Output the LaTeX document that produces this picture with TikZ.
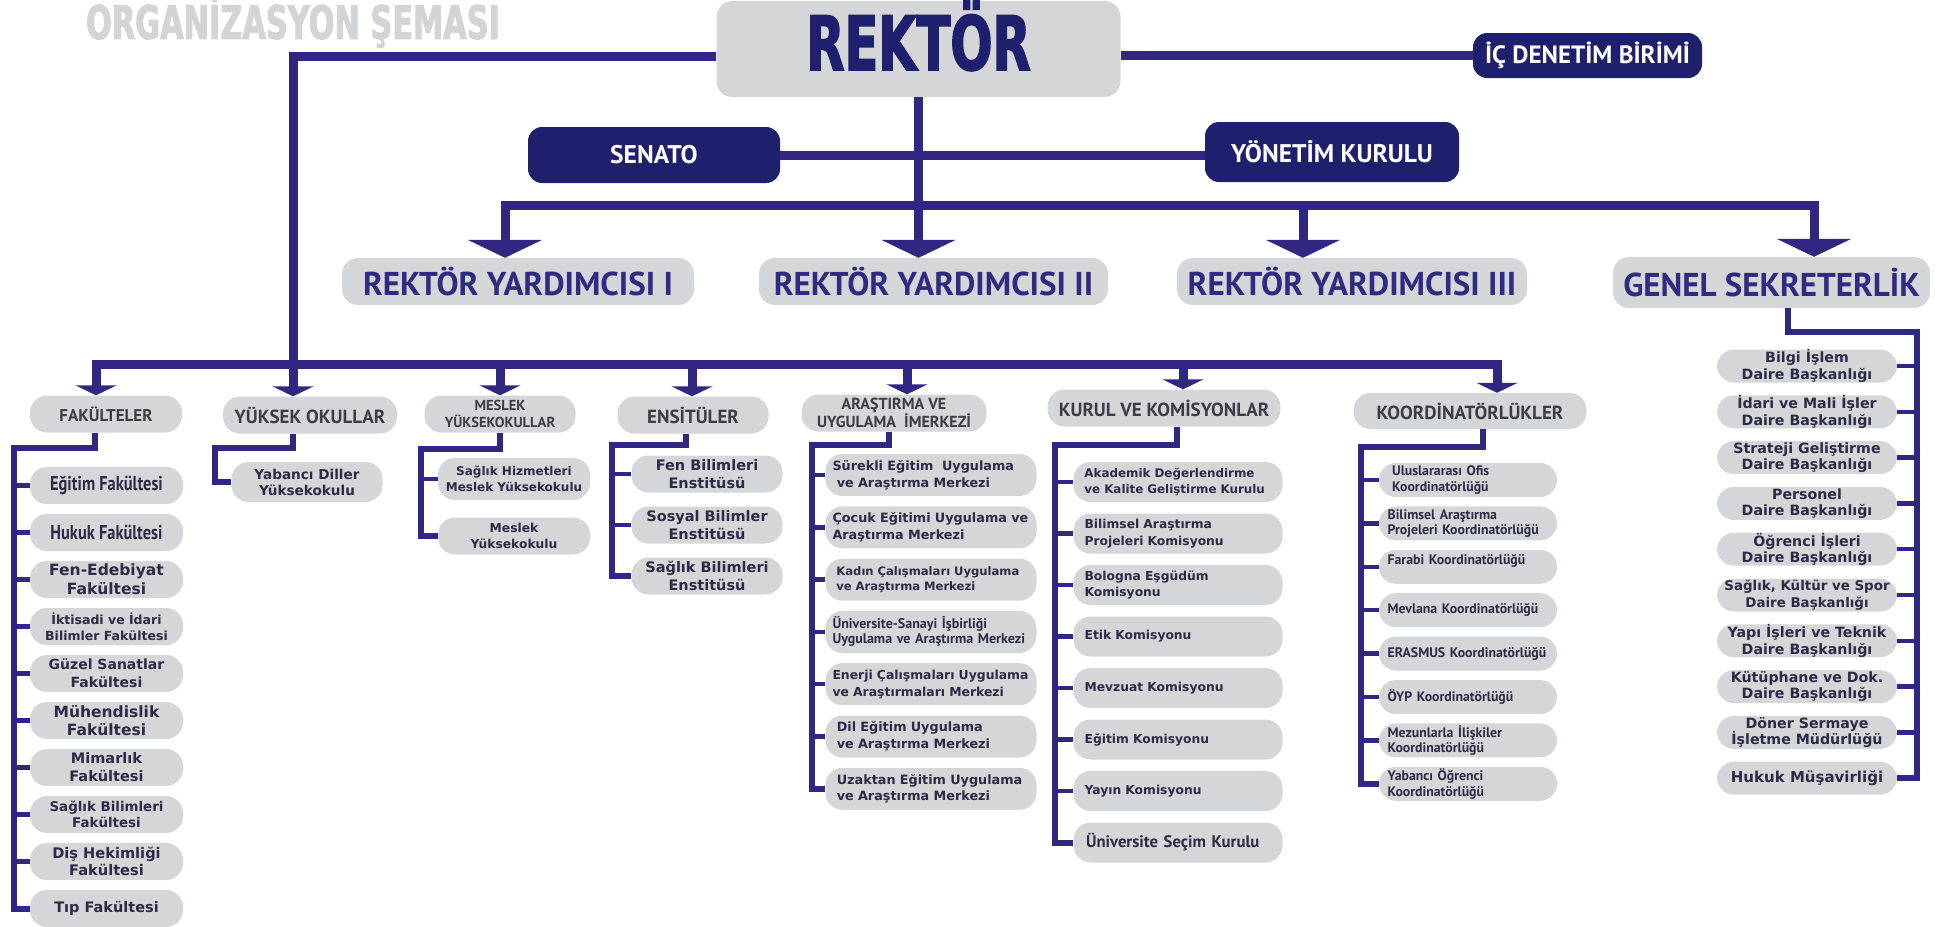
\documentclass[tikz,border=0pt]{standalone}
\usepackage{fontspec}
\setmainfont{DejaVu Sans}
\newfontfamily\myriad{PT Sans}
\newfontfamily\myriadcond[FakeStretch=0.82]{PT Sans}
\newfontfamily\impact[FakeStretch=0.66,FakeBold=2]{DejaVu Sans}
\usepackage{tikz}
\usetikzlibrary{arrows.meta}
\usetikzlibrary{positioning}

\definecolor{navy}{HTML}{302783}
\definecolor{darknavy}{HTML}{1E1F6D}
\definecolor{boxgray}{HTML}{D5D6D8}
\definecolor{titlegray}{HTML}{D3D4D6}
\definecolor{itemtext}{HTML}{2B2B47}
\definecolor{cattext}{HTML}{3D3D45}
\definecolor{rytext}{HTML}{2F2A82}

\tikzset{
    line/.style={draw=navy, line width=9pt},
    bigarrow/.style={line, -{Triangle[width=74pt,length=18pt]}},
    smallarrow/.style={line, -{Triangle[width=41pt,length=10pt]}},
    rail/.style={draw=navy, line width=6pt},
    stub/.style={draw=navy, line width=4.5pt},
    head/.style={
           rectangle,
           rounded corners=16pt,
           fill=boxgray,
           text=rytext,
           inner sep=0pt,
           minimum height=47pt,
           font=\myriad\bfseries\fontsize{33}{34}\selectfont,
           },
    navybox/.style={
           rectangle,
           rounded corners=14pt,
           fill=darknavy,
           text=white,
           inner sep=0pt,
           font=\myriad\bfseries\fontsize{25.5}{27}\selectfont,
           },
    cat/.style={
           rectangle,
           rounded corners=17pt,
           fill=boxgray,
           text=cattext,
           align=center,
           inner sep=0pt,
           minimum height=37pt,
           font=\myriad\bfseries\fontsize{19}{20}\selectfont,
           },
    item/.style={
           rectangle,
           rounded corners=17pt,
           fill=boxgray,
           text=itemtext,
           align=center,
           inner sep=0pt,
           font=\bfseries\fontsize{13}{16}\selectfont,
           },
    fs/.style 2 args={font=\bfseries\fontsize{#1}{#2}\selectfont},
    pt/.style 2 args={font=\myriad\bfseries\fontsize{#1}{#2}\selectfont},
    ptc/.style 2 args={font=\myriadcond\bfseries\fontsize{#1}{#2}\selectfont},
    fakitem/.style={item, minimum width=153pt, minimum height=37pt},
    ensitem/.style={item, minimum width=151pt, minimum height=37pt, fs={14.5}{18}},
    arsitem/.style={item, align=left, text width=197pt, inner xsep=7pt, minimum height=42pt, fs={12.8}{16.7}},
    kitem/.style={item, align=left, text width=195pt, inner xsep=7pt, minimum height=40pt, fs={12.3}{16.5}},
    citem/.style={item, align=left, text width=170pt, inner xsep=4pt, minimum height=34pt, pt={13.8}{15.5}},
    gsitem/.style={item, minimum width=180pt, minimum height=33pt, fs={14.2}{16.5}},
}

\begin{document}
\begin{tikzpicture}[x=1pt,y=-1pt]
    \useasboundingbox (0,0) rectangle (1937,926);

    % rector level
    \node[font=\impact\bfseries\fontsize{46}{46}\selectfont, text=titlegray] (title) at (293,22) {ORGANİZASYON ŞEMASI};
    \node[head, minimum width=404pt, minimum height=96pt, text=darknavy, text height=55pt, text depth=13pt,
          font=\impact\bfseries\fontsize{75}{75}\selectfont] (rektor) at (918.5,49) {REKTÖR};
    \node[navybox, minimum width=229pt, minimum height=45pt, font=\myriad\bfseries\fontsize{25}{26}\selectfont]
          (icdenetim) at (1587.5,55.5) {İÇ DENETİM BİRİMİ};
    \node[navybox, minimum width=252pt, minimum height=56pt] (senato) at (654,155) {SENATO};
    \node[navybox, minimum width=254pt, minimum height=60pt] (yonetim) at (1332,152) {YÖNETİM KURULU};

    \node[head, minimum width=352pt] (ry1) at (518,281.5) {REKTÖR YARDIMCISI I};
    \node[head, minimum width=349pt] (ry2) at (933.5,281.5) {REKTÖR YARDIMCISI II};
    \node[head, minimum width=350pt] (ry3) at (1352,281.5) {REKTÖR YARDIMCISI III};
    \node[head, minimum width=317pt, minimum height=51pt] (gs) at (1771.5,282.5) {GENEL SEKRETERLİK};

    \coordinate (bus1L) at (505,205);
    \coordinate (bus1M) at (1303,205);
    \coordinate (bus1R) at (1814,205);
    \coordinate (topbend) at (293,56);

    \draw[line] (icdenetim.west -| rektor.east) -- (icdenetim.west);
    \draw[line] (senato.east) -- (senato.east -| yonetim.west);
    \draw[bigarrow] (bus1M) -- (bus1L) -- (bus1L |- ry1.north);
    \draw[bigarrow] (bus1M) -- (bus1R) -- (bus1R |- gs.north);
    \draw[bigarrow] (bus1M) -- (bus1M |- ry3.north);
    \draw[bigarrow] (rektor.south) -- (rektor.south |- ry2.north);

    % units
    \node[cat, minimum width=152pt, font=\myriad\bfseries\fontsize{17}{18}\selectfont] (fak) at (106,414) {FAKÜLTELER};
    \node[cat, minimum width=174pt] (yo) at (310,415) {YÜKSEK OKULLAR};
    \node[cat, minimum width=151pt, font=\myriad\bfseries\fontsize{14.5}{17}\selectfont] (myo) at (500,414) {MESLEK\\YÜKSEKOKULLAR};
    \node[cat, minimum width=151pt] (ens) at (693,415) {ENSİTÜLER};
    \node[cat, minimum width=185pt, font=\myriad\bfseries\fontsize{16}{17}\selectfont] (ars) at (894,413) {ARAŞTIRMA VE\\UYGULAMA~~İMERKEZİ};
    \node[cat, minimum width=233pt] (kurul) at (1164,408) {KURUL VE KOMİSYONLAR};
    \node[cat, minimum width=233pt, minimum height=36pt] (koord) at (1470,411) {KOORDİNATÖRLÜKLER};

    \coordinate (bus2L) at (96,364);
    \coordinate (bus2R) at (1497,364);
    \coordinate (myodrop) at (500,364);
    \coordinate (ensdrop) at (692,364);
    \coordinate (arsdrop) at (907,364);
    \coordinate (kuruldrop) at (1183,364);

    \draw[smallarrow] (rektor.west |- topbend) -- (topbend) -- (topbend |- yo.north);
    \draw[smallarrow] (bus2R) -- (bus2L) -- (bus2L |- fak.north);
    \draw[smallarrow] (bus2L) -- (bus2R) -- (bus2R |- koord.north);
    \draw[smallarrow] (myodrop) -- (myodrop |- myo.north);
    \draw[smallarrow] (ensdrop) -- (ensdrop |- ens.north);
    \draw[smallarrow] (arsdrop) -- (arsdrop |- ars.north);
    \draw[smallarrow] (kuruldrop) -- (kuruldrop |- kurul.north);

    % faculties
    \begin{scope}[node distance=47pt]
    \node[fakitem, ptc={20}{22}] (f1) at (106.5,485.5) {Eğitim Fakültesi};
    \node[fakitem, ptc={20}{22}] (f2) [below of=f1] {Hukuk Fakültesi};
    \node[fakitem, fs={15.5}{19}] (f3) [below of=f2] {Fen-Edebiyat\\Fakültesi};
    \node[fakitem, fs={12.5}{16}] (f4) [below of=f3] {İktisadi ve İdari\\Bilimler Fakültesi};
    \node[fakitem, fs={14}{18}] (f5) [below of=f4] {Güzel Sanatlar\\Fakültesi};
    \node[fakitem, fs={15.5}{18}] (f6) [below of=f5] {Mühendislik\\Fakültesi};
    \node[fakitem, fs={14.5}{18}] (f7) [below of=f6] {Mimarlık\\Fakültesi};
    \node[fakitem, fs={13.4}{16.5}] (f8) [below of=f7] {Sağlık Bilimleri\\Fakültesi};
    \node[fakitem, fs={14.6}{17}] (f9) [below of=f8] {Diş Hekimliği\\Fakültesi};
    \node[fakitem, fs={14.5}{17}] (f10) [below of=f9] {Tıp Fakültesi};
    \end{scope}
    \coordinate (fakrail) at (14,448);
    \draw[rail] ([xshift=-11pt]fak.south) |- (fakrail) |- (f10.west);
    \draw[stub] (fakrail |- f1.west) -- (f1.west) (fakrail |- f2.west) -- (f2.west)
                (fakrail |- f3.west) -- (f3.west) (fakrail |- f4.west) -- (f4.west)
                (fakrail |- f5.west) -- (f5.west) (fakrail |- f6.west) -- (f6.west)
                (fakrail |- f7.west) -- (f7.west) (fakrail |- f8.west) -- (f8.west)
                (fakrail |- f9.west) -- (f9.west);

    % schools
    \node[item, minimum width=151pt, minimum height=40pt, fs={13.6}{16}] (yd) at (307,482) {Yabancı Diller\\Yüksekokulu};
    \coordinate (yorail) at (215,448);
    \draw[rail] ([xshift=-17pt]yo.south) |- (yorail) |- (yd.west);

    \node[item, minimum width=152pt, minimum height=42pt, fs={12}{16}] (m1) at (514,479) {Sağlık Hizmetleri\\Meslek Yüksekokulu};
    \node[item, minimum width=152pt, minimum height=37pt, fs={12.3}{16}, node distance=57pt] (m2) [below of=m1] {Meslek\\Yüksekokulu};
    \coordinate (myorail) at (421,449);
    \draw[rail] (myo.south) |- (myorail) |- (m2.west);
    \draw[stub] (myorail |- m1.west) -- (m1.west);

    % institutes
    \begin{scope}[node distance=51pt]
    \node[ensitem] (e1) at (707,474) {Fen Bilimleri\\Enstitüsü};
    \node[ensitem] (e2) [below of=e1] {Sosyal Bilimler\\Enstitüsü};
    \node[ensitem] (e3) [below of=e2] {Sağlık Bilimleri\\Enstitüsü};
    \end{scope}
    \coordinate (ensrail) at (612,445);
    \draw[rail] ([xshift=-7pt]ens.south) |- (ensrail) |- (e3.west);
    \draw[stub] (ensrail |- e1.west) -- (e1.west) (ensrail |- e2.west) -- (e2.west);

    % research centres
    \begin{scope}[node distance=52.3pt]
    \node[arsitem] (a1) at (931,475) {Sürekli Eğitim~~Uygulama\\~ve Araştırma Merkezi};
    \node[arsitem] (a2) [below of=a1] {Çocuk Eğitimi Uygulama ve\\Araştırma Merkezi};
    \node[arsitem, fs={11.6}{15}] (a3) [below of=a2] {~Kadın Çalışmaları Uygulama\\~ve Araştırma Merkezi};
    \node[arsitem, pt={14}{15}] (a4) [below of=a3] {Üniversite-Sanayi İşbirliği\\Uygulama ve Araştırma Merkezi};
    \node[arsitem, fs={12.4}{16.7}] (a5) [below of=a4] {Enerji Çalışmaları Uygulama\\ve Araştırmaları Merkezi};
    \node[arsitem] (a6) [below of=a5] {~Dil Eğitim Uygulama\\~ve Araştırma Merkezi};
    \node[arsitem] (a7) [below of=a6] {~Uzaktan Eğitim Uygulama\\~ve Araştırma Merkezi};
    \end{scope}
    \coordinate (arsrail) at (812,445);
    \draw[rail] ([xshift=-5pt]ars.south) |- (arsrail) |- (a7.west);
    \draw[stub] (arsrail |- a1.west) -- (a1.west) (arsrail |- a2.west) -- (a2.west)
                (arsrail |- a3.west) -- (a3.west) (arsrail |- a4.west) -- (a4.west)
                (arsrail |- a5.west) -- (a5.west) (arsrail |- a6.west) -- (a6.west);

    % boards and commissions
    \begin{scope}[node distance=51.5pt]
    \node[kitem, fs={11.9}{16.5}] (k1) at (1178,482) {~Akademik Değerlendirme\\~ve Kalite Geliştirme Kurulu};
    \node[kitem] (k2) [below of=k1] {~Bilimsel Araştırma\\~Projeleri Komisyonu};
    \node[kitem] (k3) [below of=k2] {~Bologna Eşgüdüm\\~Komisyonu};
    \node[kitem] (k4) [below of=k3] {~Etik Komisyonu};
    \node[kitem] (k5) [below of=k4] {~Mevzuat Komisyonu};
    \node[kitem] (k6) [below of=k5] {~Eğitim Komisyonu};
    \node[kitem] (k7) [below of=k6] {~Yayın Komisyonu};
    \node[kitem, pt={16.7}{18}] (k8) [below of=k7] {~Üniversite Seçim Kurulu};
    \end{scope}
    \coordinate (kurulrail) at (1055,445);
    \draw[rail] ([xshift=13pt]kurul.south) |- (kurulrail) |- (k8.west);
    \draw[stub] (kurulrail |- k1.west) -- (k1.west) (kurulrail |- k2.west) -- (k2.west)
                (kurulrail |- k3.west) -- (k3.west) (kurulrail |- k4.west) -- (k4.west)
                (kurulrail |- k5.west) -- (k5.west) (kurulrail |- k6.west) -- (k6.west)
                (kurulrail |- k7.west) -- (k7.west);

    % coordinatorships
    \begin{scope}[node distance=43.4pt]
    \node[citem] (c1) at (1468,480) {~~Uluslararası Ofis\\~~Koordinatörlüğü};
    \node[citem] (c2) [below of=c1] {~Bilimsel Araştırma\\~Projeleri Koordinatörlüğü};
    \node[citem] (c3) [below of=c2] {~Farabi Koordinatörlüğü\\~};
    \node[citem] (c4) [below of=c3] {~Mevlana Koordinatörlüğü};
    \node[citem] (c5) [below of=c4] {~ERASMUS Koordinatörlüğü};
    \node[citem] (c6) [below of=c5] {~ÖYP Koordinatörlüğü};
    \node[citem] (c7) [below of=c6] {~Mezunlarla İlişkiler\\~Koordinatörlüğü};
    \node[citem] (c8) [below of=c7] {~Yabancı Öğrenci\\~Koordinatörlüğü};
    \end{scope}
    \coordinate (koordrail) at (1361,447);
    \draw[rail] ([xshift=13pt]koord.south) |- (koordrail) |- (c8.west);
    \draw[stub] (koordrail |- c1.west) -- (c1.west) (koordrail |- c2.west) -- (c2.west)
                (koordrail |- c3.west) -- (c3.west) (koordrail |- c4.west) -- (c4.west)
                (koordrail |- c5.west) -- (c5.west) (koordrail |- c6.west) -- (c6.west)
                (koordrail |- c7.west) -- (c7.west);

    % general secretariat
    \begin{scope}[node distance=45.8pt]
    \node[gsitem] (g1) at (1807,366) {Bilgi İşlem\\Daire Başkanlığı};
    \node[gsitem] (g2) [below of=g1] {İdari ve Mali İşler\\Daire Başkanlığı};
    \node[gsitem] (g3) [below of=g2] {Strateji Geliştirme\\Daire Başkanlığı};
    \node[gsitem] (g4) [below of=g3] {Personel\\Daire Başkanlığı};
    \node[gsitem] (g5) [below of=g4] {Öğrenci İşleri\\Daire Başkanlığı};
    \node[gsitem, fs={13.4}{16.5}] (g6) [below of=g5] {Sağlık, Kültür ve Spor\\Daire Başkanlığı};
    \node[gsitem] (g7) [below of=g6] {Yapı İşleri ve Teknik\\Daire Başkanlığı};
    \node[gsitem] (g8) [below of=g7] {Kütüphane ve Dok.\\Daire Başkanlığı};
    \node[gsitem] (g9) [below of=g8] {Döner Sermaye\\İşletme Müdürlüğü};
    \node[gsitem, fs={15}{16}] (g10) [below of=g9] {Hukuk Müşavirliği};
    \end{scope}
    \coordinate (gsrail) at (1917,332);
    \draw[rail] ([xshift=16pt]gs.south) |- (gsrail) |- (g10.east);
    \draw[stub] (gsrail |- g1.east) -- (g1.east) (gsrail |- g2.east) -- (g2.east)
                (gsrail |- g3.east) -- (g3.east) (gsrail |- g4.east) -- (g4.east)
                (gsrail |- g5.east) -- (g5.east) (gsrail |- g6.east) -- (g6.east)
                (gsrail |- g7.east) -- (g7.east) (gsrail |- g8.east) -- (g8.east)
                (gsrail |- g9.east) -- (g9.east);

\end{tikzpicture}
\end{document}
